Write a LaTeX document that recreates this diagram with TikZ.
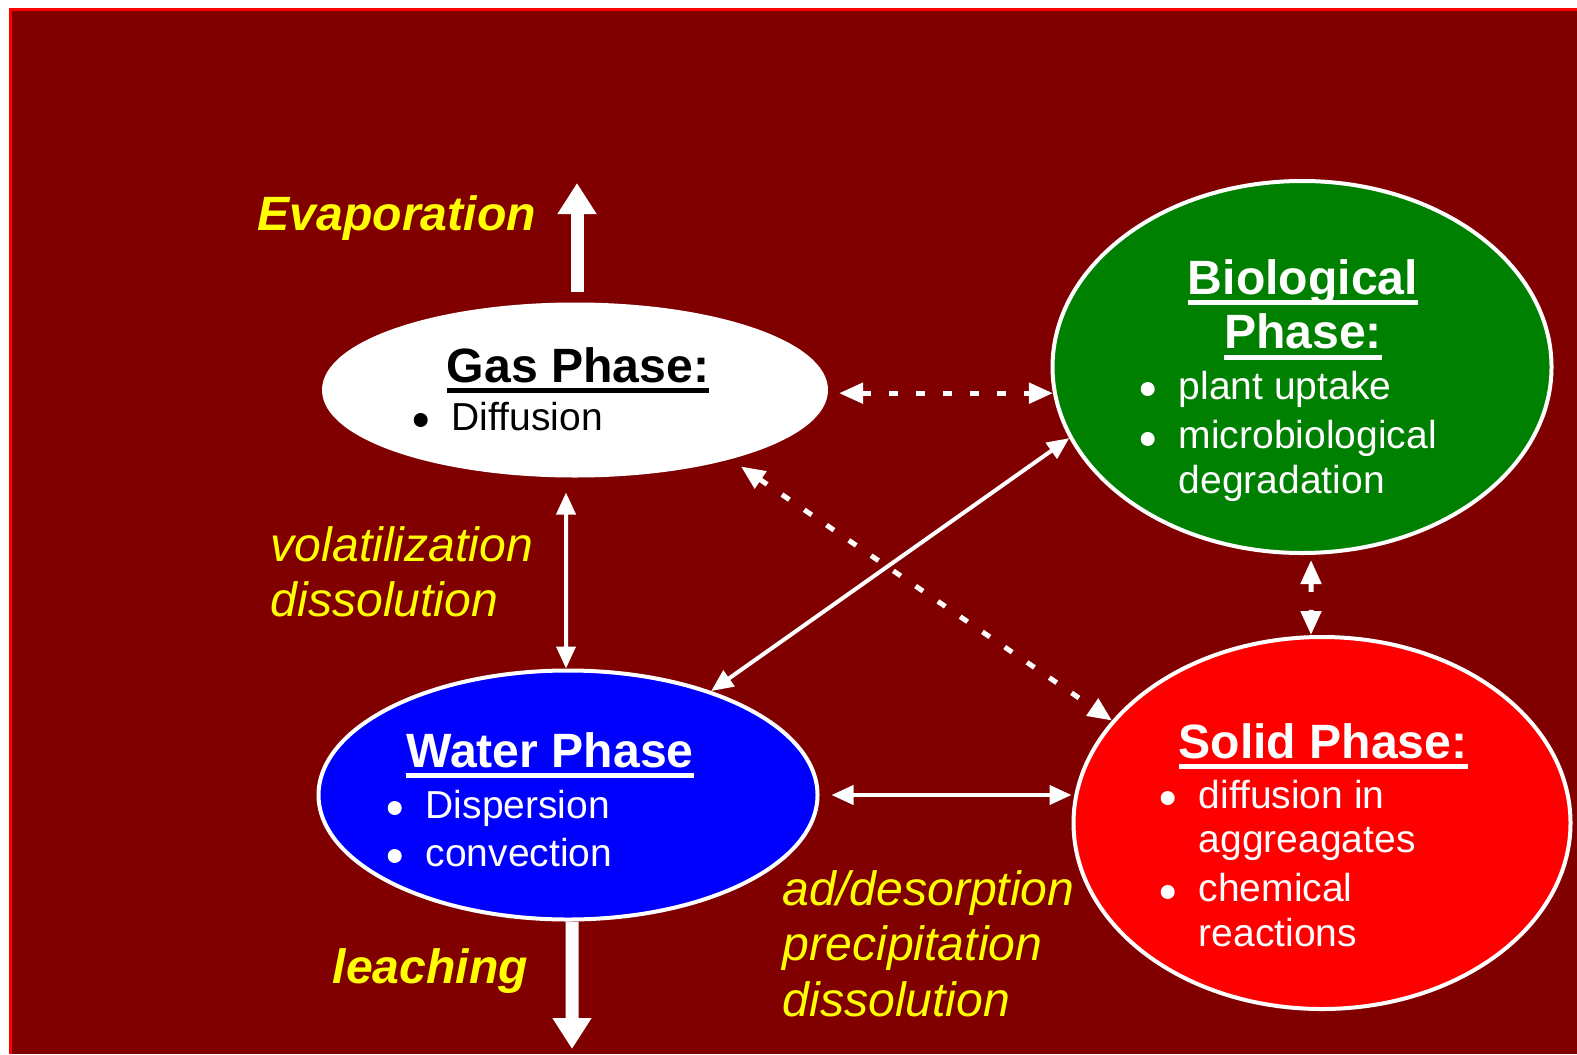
\documentclass[tikz,border=0pt]{standalone}
\usepackage{fontspec}
\setmainfont{Liberation Sans}
\usepackage{xcolor}
\usetikzlibrary{shapes.geometric,arrows.meta}

\definecolor{bgred}{HTML}{800000}
\definecolor{biogreen}{HTML}{008000}
\definecolor{waterblue}{HTML}{0000FF}
\definecolor{solidred}{HTML}{FF0000}
\definecolor{labelyellow}{HTML}{FFFF00}

\newcommand{\phaseul}[1]{\setbox0\hbox{#1}\rlap{\rule[-0.11cm]{\wd0}{0.05cm}}\box0}
\newcommand{\phasebullet}{\tikz[baseline=-0.10cm]\fill (0,0) circle (0.07cm);}
\newcommand{\headfont}{\fontsize{13.7}{15.6}\selectfont\bfseries}
\newcommand{\itemfont}{\fontsize{11.1}{12.8}\selectfont}
\newcommand{\labelfont}{\fontsize{13.7}{15.9}\selectfont\itshape}

\begin{document}
\begin{tikzpicture}[
		phase/.style={draw=white, line width=0.04cm, ellipse, inner sep=0pt},
		headtxt/.style={anchor=base, inner sep=0pt, font=\headfont},
		listtxt/.style={anchor=base west, inner sep=0pt, font=\itemfont},
		labeltxt/.style={anchor=base west, inner sep=0pt, text=labelyellow, font=\labelfont},
		thinarrow/.style={white, line width=0.04cm, {Triangle[length=0.22cm,width=0.19cm]}-{Triangle[length=0.22cm,width=0.19cm]}},
		dotarrow/.style={white, line width=0.05cm, dash pattern=on 0.09cm off 0.18cm, {Triangle[length=0.24cm,width=0.2cm]}-{Triangle[length=0.24cm,width=0.2cm]}},
		bigarrow/.style={white, line width=0.13cm, -{Triangle[length=0.31cm,width=0.37cm]}}
	]
			\useasboundingbox (0,0) rectangle (15.77,-10.54);
			\fill[solidred] (0.09,-0.08) rectangle (15.77,-10.54);
			\fill[bgred] (0.12,-0.11) rectangle (15.77,-10.54);

			\node[phase, fill=white, minimum width=5.02cm, minimum height=1.71cm] (gas) at (5.75,-3.90) {};
			\node[phase, fill=biogreen, minimum width=4.99cm, minimum height=3.72cm] (bio) at (13.02,-3.67) {};
			\node[phase, fill=waterblue, minimum width=4.99cm, minimum height=2.49cm] (water) at (5.68,-7.95) {};
			\node[phase, fill=solidred, minimum width=4.97cm, minimum height=3.72cm] (solid) at (13.22,-8.23) {};

			\node[headtxt, text=black] (gastitle) at (5.78,-3.82) {\phaseul{Gas Phase:}};
			\node[listtxt, text=black] (gaslist) at (4.13,-4.30) {\begin{tabular}[t]{@{}l@{\hspace{0.24cm}}l@{}}\phasebullet & Diffusion\end{tabular}};

			\node[headtxt, text=white] (biotitle) at (13.03,-2.94) {\begin{tabular}[t]{@{}c@{}}\phaseul{Biological}\\\phaseul{Phase:}\end{tabular}};
			\node[listtxt, text=white] (biolist) at (11.40,-3.99) {\begin{tabular}[t]{@{}l@{\hspace{0.24cm}}l@{}}\phasebullet & plant uptake\\[0.05cm]
				\phasebullet & microbiological\\ & degradation\end{tabular}};

			\node[headtxt, text=white] (watertitle) at (5.50,-7.67) {\phaseul{Water Phase}};
			\node[listtxt, text=white] (waterlist) at (3.87,-8.18) {\begin{tabular}[t]{@{}l@{\hspace{0.24cm}}l@{}}\phasebullet & Dispersion\\[0.03cm]
				\phasebullet & convection\end{tabular}};

			\node[headtxt, text=white] (solidtitle) at (13.23,-7.58) {\phaseul{Solid Phase:}};
			\node[listtxt, text=white] (solidlist) at (11.60,-8.08) {\begin{tabular}[t]{@{}l@{\hspace{0.24cm}}l@{}}\phasebullet & diffusion in\\ & aggreagates\\[0.04cm]
				\phasebullet & chemical\\ & reactions\end{tabular}};

			\node[labeltxt, font=\labelfont\bfseries] (evaplabel) at (2.57,-2.30) {Evaporation};
			\node[labeltxt] (vollabel) at (2.70,-5.61) {\begin{tabular}[t]{@{}l@{}}volatilization\\dissolution\end{tabular}};
			\node[labeltxt, font=\labelfont\bfseries] (leachlabel) at (3.32,-9.83) {leaching};
			\node[labeltxt] (adlabel) at (7.82,-9.05) {\begin{tabular}[t]{@{}l@{}}ad/desorption\\precipitation\\dissolution\end{tabular}};

			\coordinate (evaptip) at (5.77,-1.83);
			\coordinate (leachtip) at (5.72,-10.49);

			\draw[bigarrow, shorten <=0.11cm] ([xshift=0.02cm]gas.north) -- (evaptip);
			\draw[bigarrow] ([xshift=0.04cm]water.south) -- (leachtip);
			\draw[thinarrow, shorten <=0.15cm] ([xshift=-0.09cm]gas.south) -- ([xshift=-0.02cm]water.north);
			\draw[dotarrow, shorten <=0.11cm] (gas.east |- bio.186) -- (bio.186);
			\draw[dotarrow, shorten <=0.05cm] ([xshift=0.09cm]bio.south) -- ([xshift=-0.11cm]solid.north);
			\draw[dotarrow, shorten <=0.13cm] (gas.-24) -- (solid.154);
			\draw[thinarrow] (water.36) -- (bio.197);
			\draw[thinarrow, shorten <=0.12cm] (water.east) -- (water.east -| solid.west);
		\end{tikzpicture}
\end{document}
